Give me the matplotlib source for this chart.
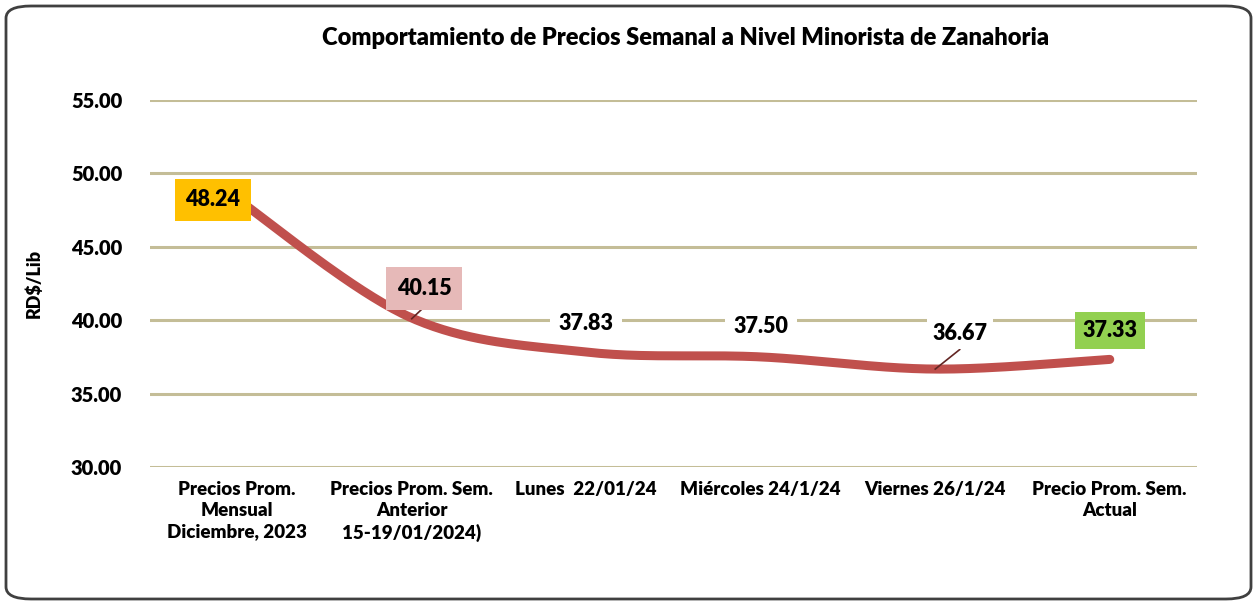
import matplotlib.pyplot as plt
import numpy as np
from matplotlib.patches import FancyBboxPatch

categories = ['Precios Prom.\nMensual\nDiciembre, 2023',
              'Precios Prom. Sem.\nAnterior\n15-19/01/2024)',
              'Lunes  22/01/24',
              'Miércoles 24/1/24',
              'Viernes 26/1/24',
              'Precio Prom. Sem.\nActual']
precios = [48.24, 40.15, 37.83, 37.50, 36.67, 37.33]
y_ticks = [30, 35, 40, 45, 50, 55]

plt.rcParams['font.family'] = ['Lato', 'DejaVu Sans']
W = 'heavy'

fig = plt.figure(figsize=(12.57, 6.05), dpi=100)
ax = fig.add_axes([150 / 1257, 1 - 467 / 605, 1047 / 1257, 367 / 605])

# suavizado tipo Excel (bezier con puntos de control catmull-rom)
x = np.arange(len(precios), dtype=float)
y = np.array(precios)
xs, ys = [], []
t = np.linspace(0, 1, 40)
for i in range(len(x) - 1):
    p0 = np.array([x[max(i - 1, 0)], y[max(i - 1, 0)]])
    p1 = np.array([x[i], y[i]])
    p2 = np.array([x[i + 1], y[i + 1]])
    p3 = np.array([x[min(i + 2, len(x) - 1)], y[min(i + 2, len(x) - 1)]])
    c1 = p1 + (p2 - p0) / 6
    c2 = p2 - (p3 - p1) / 6
    pts = ((1 - t) ** 3)[:, None] * p1 + (3 * (1 - t) ** 2 * t)[:, None] * c1 \
        + (3 * (1 - t) * t ** 2)[:, None] * c2 + (t ** 3)[:, None] * p2
    xs.extend(pts[:, 0])
    ys.extend(pts[:, 1])

for v in y_ticks:
    ax.axhline(v, color='#C4BD97', lw=2.2, zorder=1)
ax.plot(xs, ys, color='#C0504D', lw=6.5, solid_capstyle='round', zorder=3)

ax.set_xlim(-0.5, len(precios) - 0.5)
ax.set_ylim(30, 55)
ax.set_yticks(y_ticks)
ax.set_yticklabels([f'{v:.2f}' for v in y_ticks], fontsize=14.5, fontweight=W)
ax.set_xticks(x)
ax.set_xticklabels(categories, fontsize=13.5, fontweight=W, linespacing=1.3)
ax.tick_params(length=0, pad=10)
ax.tick_params(axis='y', pad=20)
for s in ax.spines.values():
    s.set_visible(False)
ax.set_ylabel('RD$/Lib', fontsize=13, fontweight=W, labelpad=20)

# etiquetas de datos
lbl = dict(fontsize=15.5, fontweight=W, ha='center', va='center', zorder=5)
ax.text(x[0] - 0.14, 48.24 - 0.05, '48.24', bbox=dict(boxstyle='square,pad=0.5', fc='#FFC000', ec='none'), **lbl)
ax.text(x[1] + 0.07, 42.15, '40.15', bbox=dict(boxstyle='square,pad=0.5', fc='#E6B9B8', ec='none'), **lbl)
ax.plot([x[1] + 0.0, x[1] + 0.08], [40.1, 41.0], color='#632523', lw=1.2, zorder=4)
ax.text(x[2], 39.75, '37.83', bbox=dict(boxstyle='square,pad=0.4', fc='white', ec='none'), **lbl)
ax.text(x[3], 39.55, '37.50', bbox=dict(boxstyle='square,pad=0.4', fc='white', ec='none'), **lbl)
ax.text(x[4] + 0.14, 39.1, '36.67', bbox=dict(boxstyle='square,pad=0.25', fc='white', ec='none'), **lbl)
ax.plot([x[4], x[4] + 0.14], [36.67, 38.0], color='#632523', lw=1.2, zorder=4)
ax.text(x[5], 39.3, '37.33', bbox=dict(boxstyle='square,pad=0.35', fc='#92D050', ec='none'), **lbl)

fig.text(686 / 1257, 1 - 38 / 605, 'Comportamiento de Precios Semanal a Nivel Minorista de Zanahoria',
         ha='center', va='center', fontsize=17, fontweight=W)

fig.patches.append(FancyBboxPatch((6 / 1257, 6 / 605), 1245 / 1257, 593 / 605,
                                  boxstyle='round,pad=0,rounding_size=0.02',
                                  transform=fig.transFigure, fc='none', ec='#404040', lw=2))

fig.savefig('out.png', dpi=100)
